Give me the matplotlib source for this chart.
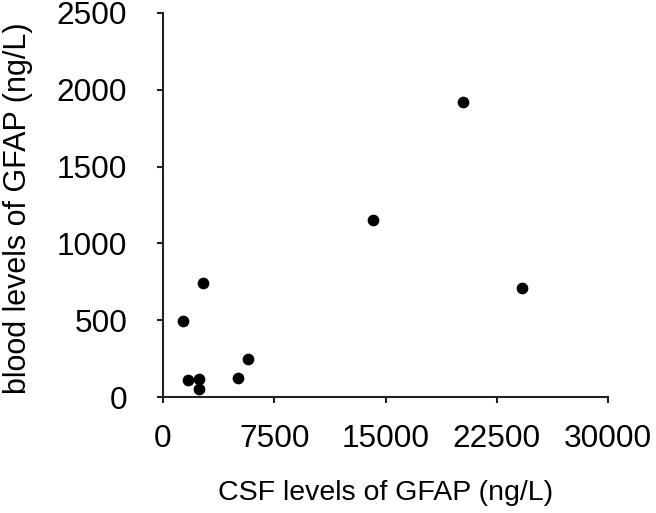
import matplotlib
matplotlib.use("Agg")
import matplotlib.pyplot as plt

# CSF vs blood GFAP, ng/L
csf_gfap = [2680, 1330, 1710, 2450, 2430, 5040, 5760, 20230, 14160, 24210]
blood_gfap = [744, 497, 109, 117, 54, 126, 249, 1921, 1152, 710]

x_ticks = [0, 7500, 15000, 22500, 30000]
y_ticks = [0, 500, 1000, 1500, 2000, 2500]

plt.rcParams['font.family'] = ['Liberation Sans', 'DejaVu Sans']

fig = plt.figure(figsize=(6.56, 5.13), dpi=100)
ax = fig.add_axes([0.2485, 0.226, 0.6785, 0.749])

ax.scatter(csf_gfap, blood_gfap, s=55, color='black', zorder=3, clip_on=False)

ax.set_xlim(0, 30000)
ax.set_ylim(0, 2500)
ax.set_xticks(x_ticks)
ax.set_yticks(y_ticks)
ax.set_xticklabels([str(t) for t in x_ticks])
ax.set_yticklabels([str(t) for t in y_ticks])

for side in ['top', 'right']:
    ax.spines[side].set_visible(False)
for side in ['left', 'bottom']:
    ax.spines[side].set_linewidth(1.5)
    ax.spines[side].set_color('#222222')

ax.tick_params(direction='out', length=4.3, width=1.5, color='#222222',
               labelsize=22.7)
ax.tick_params(axis='x', pad=15)
ax.tick_params(axis='y', pad=21.5)

ax.set_xlabel('CSF levels of GFAP (ng/L)', fontsize=20.5)
ax.set_ylabel('blood levels of GFAP (ng/L)', fontsize=22)
ax.xaxis.set_label_coords(0.5, -0.216)
ax.yaxis.set_label_coords(-0.292, 0.492)

fig.savefig('out.png', dpi=100)
